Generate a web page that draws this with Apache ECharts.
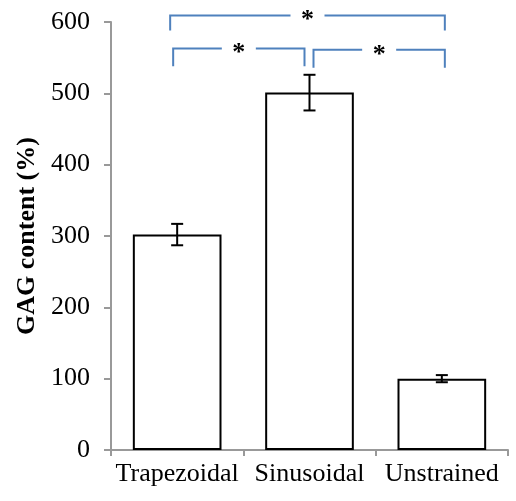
<!DOCTYPE html>
<html>
<head>
<meta charset="utf-8">
<script src="https://cdn.jsdelivr.net/npm/echarts@6/dist/echarts.min.js"></script>
<style>html,body{margin:0;padding:0;background:#fff}#c{width:516px;height:501px}</style>
</head>
<body>
<div id="c"></div>
<script>
var categories = ['Trapezoidal', 'Sinusoidal', 'Unstrained'];
var values = [302, 501, 100];
var errors = [15, 25, 5];
var yTicks = [0, 100, 200, 300, 400, 500, 600];
// significance brackets: from category, to category, top level, foot level
var bracketFrom = [0, 0, 1];
var bracketTo = [2, 1, 2];
var bracketTop = [609, 563, 561];
var bracketFoot = [588, 538, 536];
var bracketLabels = ['*', '*', '*'];

var style = {
  font: '"Liberation Serif", "Times New Roman", serif',
  blue: '#4f81bd',
  bracketEnds: [[-7, 3], [-4, -5], [4, 3]],
  gap: 17
};

var chart = echarts.init(document.getElementById('c'), null, {renderer: 'canvas'});

var errData = values.map(function (v, i) { return [i, v, errors[i]]; });
var brData = bracketFrom.map(function (f, i) { return [f, bracketTo[i], bracketTop[i], bracketFoot[i], i]; });

chart.setOption({
  animation: false,
  backgroundColor: '#fff',
  grid: {left: 111, right: 8, top: 22, bottom: 51, containLabel: false},
  xAxis: {
    type: 'category',
    data: categories,
    boundaryGap: true,
    axisLine: {lineStyle: {color: '#999', width: 2}},
    axisTick: {show: true, inside: false, length: 6, alignWithLabel: false, lineStyle: {color: '#999', width: 2}},
    axisLabel: {fontFamily: style.font, fontSize: 26, color: '#000', margin: 11, interval: 0}
  },
  yAxis: {
    type: 'value',
    min: yTicks[0],
    max: yTicks[yTicks.length - 1],
    interval: yTicks[1] - yTicks[0],
    name: 'GAG content (%)',
    nameLocation: 'middle',
    nameGap: 70,
    nameTextStyle: {fontFamily: style.font, fontSize: 26, fontWeight: 'bold', color: '#000'},
    axisLine: {show: true, lineStyle: {color: '#999', width: 2}},
    axisTick: {show: true, inside: false, length: 7, lineStyle: {color: '#999', width: 2}},
    axisLabel: {fontFamily: style.font, fontSize: 26, color: '#000', margin: 21},
    splitLine: {show: false}
  },
  series: [
    {
      type: 'bar',
      data: values,
      barWidth: '67%',
      itemStyle: {color: '#fff', borderColor: '#000', borderWidth: 2},
      z: 1
    },
    {
      type: 'custom',
      data: errData,
      z: 3,
      renderItem: function (params, api) {
        var x = api.value(0), v = api.value(1), e = api.value(2);
        var hi = api.coord([x, v + e]);
        var lo = api.coord([x, v - e]);
        var w = 6;
        var s = {stroke: '#000', lineWidth: 2, fill: null};
        return {
          type: 'group',
          children: [
            {type: 'line', shape: {x1: hi[0], y1: hi[1], x2: lo[0], y2: lo[1]}, style: s},
            {type: 'line', shape: {x1: hi[0] - w, y1: hi[1], x2: hi[0] + w, y2: hi[1]}, style: s},
            {type: 'line', shape: {x1: lo[0] - w, y1: lo[1], x2: lo[0] + w, y2: lo[1]}, style: s}
          ]
        };
      }
    },
    {
      type: 'custom',
      data: brData,
      z: 4,
      clip: false,
      renderItem: function (params, api) {
        var i = api.value(4);
        var off = style.bracketEnds[i];
        var a = api.coord([api.value(0), api.value(2)]);
        var b = api.coord([api.value(1), api.value(2)]);
        var foot = api.coord([api.value(0), api.value(3)])[1];
        var x1 = a[0] + off[0], x2 = b[0] + off[1], y = a[1];
        var mid = (x1 + x2) / 2;
        var s = {stroke: style.blue, lineWidth: 2, fill: null};
        return {
          type: 'group',
          children: [
            {type: 'polyline', shape: {points: [[x1, foot], [x1, y], [mid - style.gap, y]]}, style: s},
            {type: 'polyline', shape: {points: [[mid + style.gap, y], [x2, y], [x2, foot]]}, style: s},
            {type: 'text', x: mid, y: y + 5, style: {text: bracketLabels[i], fontFamily: style.font, fontSize: 26, fontWeight: 'bold', fill: '#000', align: 'center', verticalAlign: 'middle'}}
          ]
        };
      }
    }
  ]
});
</script>
</body>
</html>
